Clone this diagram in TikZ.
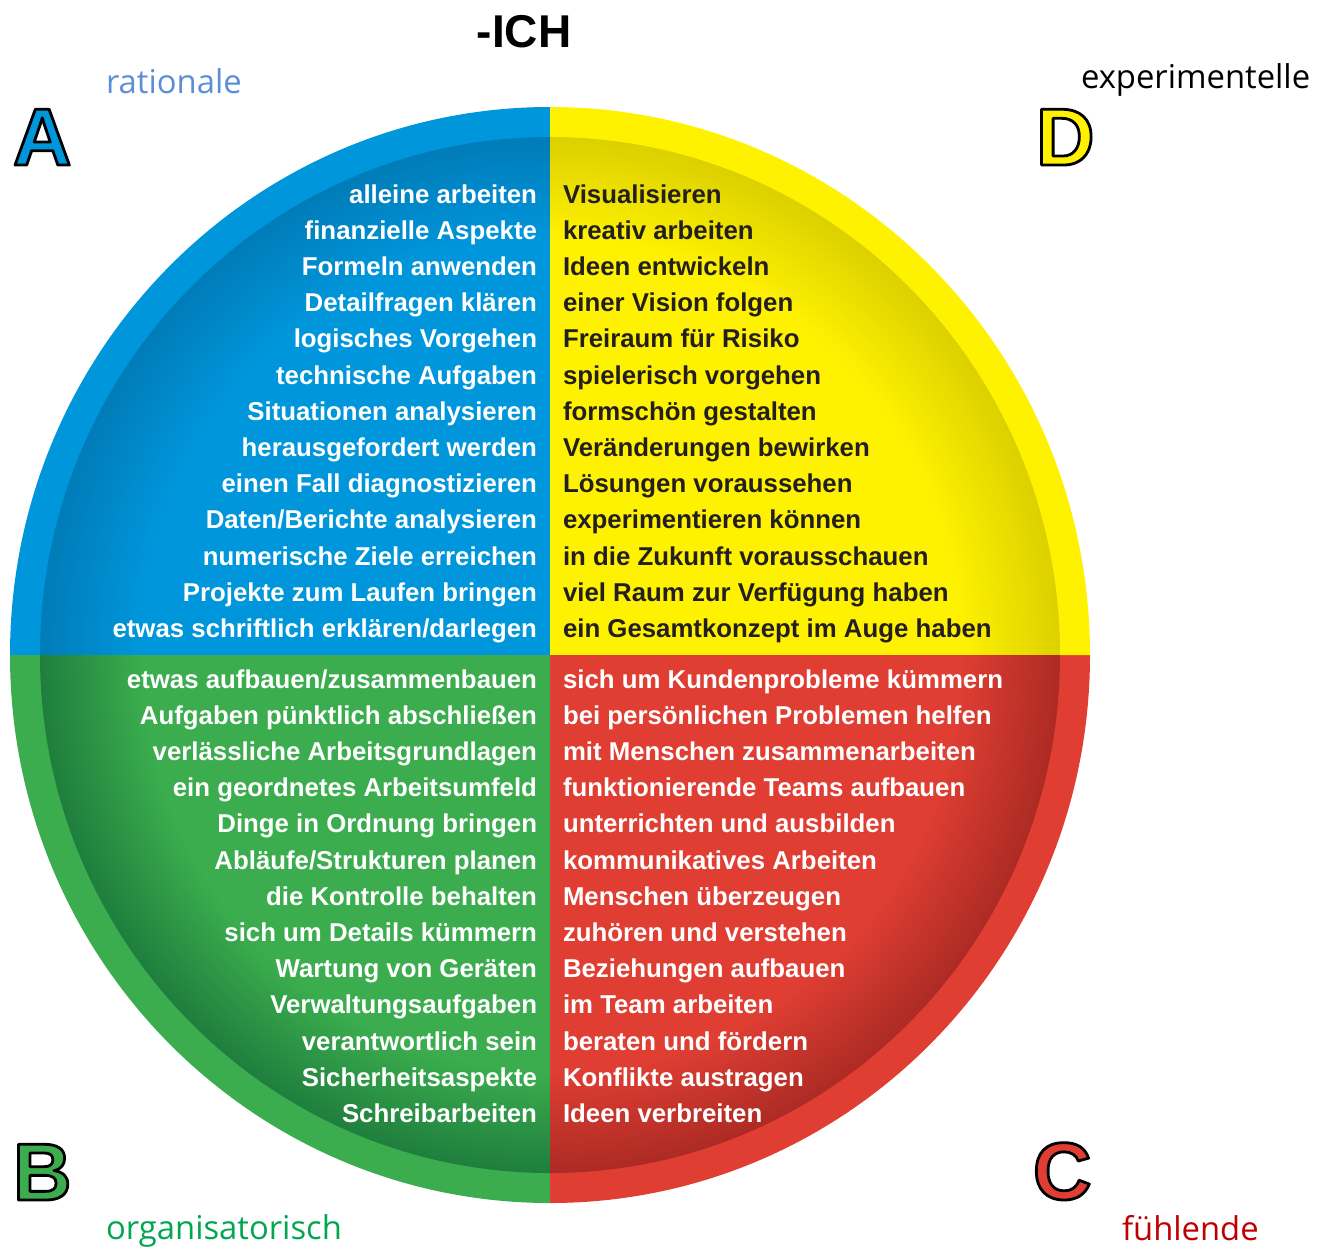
\documentclass[tikz,border=0pt]{standalone}
\usepackage{fontspec}
\setmainfont{Liberation Sans}
\newfontfamily\typefont{Open Sans}
\usepackage{xcolor}
\usetikzlibrary{positioning}
\definecolor{blueR}{HTML}{0096DB}
\definecolor{blueD}{HTML}{007CB8}
\definecolor{yellowR}{HTML}{FFF200}
\definecolor{yellowD}{HTML}{DCD000}
\definecolor{greenR}{HTML}{3BAD4E}
\definecolor{greenD}{HTML}{1F7E3D}
\definecolor{redR}{HTML}{E03E33}
\definecolor{redD}{HTML}{AC2B24}
\definecolor{darktext}{HTML}{231F20}
\definecolor{ratblue}{HTML}{5B8ED6}
\definecolor{orggreen}{HTML}{00A651}
\definecolor{fuehlred}{HTML}{C00000}
\pgfdeclareradialshading{shA}{\pgfpointorigin}{color(0bp)=(blueR); color(20bp)=(blueR); color(25bp)=(blueD); color(50bp)=(blueD)}
\pgfdeclareradialshading{shD}{\pgfpointorigin}{color(0bp)=(yellowR); color(20bp)=(yellowR); color(25bp)=(yellowD); color(50bp)=(yellowD)}
\pgfdeclareradialshading{shB}{\pgfpointorigin}{color(0bp)=(greenR); color(20bp)=(greenR); color(25bp)=(greenD); color(50bp)=(greenD)}
\pgfdeclareradialshading{shC}{\pgfpointorigin}{color(0bp)=(redR); color(20bp)=(redR); color(25bp)=(redD); color(50bp)=(redD)}
% outlined capital: fill in colour, stroke in black
\newcommand{\outlet}[2]{\textcolor{#1}{\special{pdf:literal direct 0 0 0 RG 1.4 w 1 j 2 Tr}#2\special{pdf:literal direct 0 Tr 0.4 w}}}

\begin{document}
\begin{tikzpicture}
	[x=0.5pt, y=0.5pt, inner sep=0pt, outer sep=0pt, node distance=0pt,
	item/.style={font=\fontsize{12.9}{15}\selectfont\bfseries, text height=12.45pt, text depth=5.65pt},
	lcol/.style={item, text=white},
	dcol/.style={item, text=darktext},
	letter/.style={font=\fontsize{40.5}{48}\selectfont\bfseries},
	type/.style={font=\typefont\fontsize{16.4}{20}\selectfont}]
	\useasboundingbox (0,0) rectangle (1317,-1249);
	\coordinate (c) at (550,-655);
	% outer ring
	\fill[blueR] (c) -- ++(0,274pt) arc[start angle=90, end angle=180, x radius=270pt, y radius=274pt] -- cycle;
	\fill[greenR] (c) -- ++(-270pt,0) arc[start angle=180, end angle=270, x radius=270pt, y radius=274pt] -- cycle;
	\fill[redR] (c) -- ++(0,-274pt) arc[start angle=270, end angle=360, x radius=270pt, y radius=274pt] -- cycle;
	\fill[yellowR] (c) -- ++(270pt,0) arc[start angle=0, end angle=90, x radius=270pt, y radius=274pt] -- cycle;
	% inner discs
	\begin{scope}
		\clip (c) rectangle ++(-300pt,300pt);
		\shade[shading=shA] (c) ellipse[x radius=255pt, y radius=259pt];
	\end{scope}
	\begin{scope}
		\clip (c) rectangle ++(300pt,300pt);
		\shade[shading=shD] (c) ellipse[x radius=255pt, y radius=259pt];
	\end{scope}
	\begin{scope}
		\clip (c) rectangle ++(-300pt,-300pt);
		\shade[shading=shB] (c) ellipse[x radius=255pt, y radius=259pt];
	\end{scope}
	\begin{scope}
		\clip (c) rectangle ++(300pt,-300pt);
		\shade[shading=shC] (c) ellipse[x radius=255pt, y radius=259pt];
	\end{scope}
	% heading and corner labels
	\node [font=\fontsize{23}{28}\selectfont\bfseries, anchor=base] (ich) at (524,-47) {-ICH};
	\node [type, text=ratblue, anchor=base west] (rat) at (106,-93) {rationale};
	\node [type, anchor=base west] (expt) at (1081,-88) {experimentelle};
	\node [type, text=orggreen, anchor=base west] (org) at (106,-1239) {organisatorisch};
	\node [type, text=fuehlred, anchor=base west] (fuehl) at (1122,-1240) {fühlende};
	\node [letter, anchor=south west] (letA) at (13,-165) {\outlet{blueR}{A}};
	\node [letter, anchor=south west] (letD) at (1036,-165) {\outlet{yellowR}{D}};
	\node [letter, anchor=south west] (letB) at (13,-1200) {\outlet{greenR}{B}};
	\node [letter, anchor=south west] (letC) at (1033,-1200) {\outlet{redR}{C}};
	% A: blue
	\node [lcol, anchor=base east] (a1) at (537,-203) {alleine arbeiten};
	\node [lcol] (a2) [below=of a1.south east, anchor=north east] {finanzielle Aspekte};
	\node [lcol] (a3) [below=of a2.south east, anchor=north east] {Formeln anwenden};
	\node [lcol] (a4) [below=of a3.south east, anchor=north east] {Detailfragen klären};
	\node [lcol] (a5) [below=of a4.south east, anchor=north east] {logisches Vorgehen};
	\node [lcol] (a6) [below=of a5.south east, anchor=north east] {technische Aufgaben};
	\node [lcol] (a7) [below=of a6.south east, anchor=north east] {Situationen analysieren};
	\node [lcol] (a8) [below=of a7.south east, anchor=north east] {herausgefordert werden};
	\node [lcol] (a9) [below=of a8.south east, anchor=north east] {einen Fall diagnostizieren};
	\node [lcol] (a10) [below=of a9.south east, anchor=north east] {Daten/Berichte analysieren};
	\node [lcol] (a11) [below=of a10.south east, anchor=north east] {numerische Ziele erreichen};
	\node [lcol] (a12) [below=of a11.south east, anchor=north east] {Projekte zum Laufen bringen};
	\node [lcol] (a13) [below=of a12.south east, anchor=north east] {etwas schriftlich erklären/darlegen};
	% D: yellow
	\node [dcol, anchor=base west] (d1) at (563,-203) {Visualisieren};
	\node [dcol] (d2) [below=of d1.south west, anchor=north west] {kreativ arbeiten};
	\node [dcol] (d3) [below=of d2.south west, anchor=north west] {Ideen entwickeln};
	\node [dcol] (d4) [below=of d3.south west, anchor=north west] {einer Vision folgen};
	\node [dcol] (d5) [below=of d4.south west, anchor=north west] {Freiraum für Risiko};
	\node [dcol] (d6) [below=of d5.south west, anchor=north west] {spielerisch vorgehen};
	\node [dcol] (d7) [below=of d6.south west, anchor=north west] {formschön gestalten};
	\node [dcol] (d8) [below=of d7.south west, anchor=north west] {Veränderungen bewirken};
	\node [dcol] (d9) [below=of d8.south west, anchor=north west] {Lösungen voraussehen};
	\node [dcol] (d10) [below=of d9.south west, anchor=north west] {experimentieren können};
	\node [dcol] (d11) [below=of d10.south west, anchor=north west] {in die Zukunft vorausschauen};
	\node [dcol] (d12) [below=of d11.south west, anchor=north west] {viel Raum zur Verfügung haben};
	\node [dcol] (d13) [below=of d12.south west, anchor=north west] {ein Gesamtkonzept im Auge haben};
	% B: green
	\node [lcol, anchor=base east] (b1) at (537,-688) {etwas aufbauen/zusammenbauen};
	\node [lcol] (b2) [below=of b1.south east, anchor=north east] {Aufgaben pünktlich abschließen};
	\node [lcol] (b3) [below=of b2.south east, anchor=north east] {verlässliche Arbeitsgrundlagen};
	\node [lcol] (b4) [below=of b3.south east, anchor=north east] {ein geordnetes Arbeitsumfeld};
	\node [lcol] (b5) [below=of b4.south east, anchor=north east] {Dinge in Ordnung bringen};
	\node [lcol] (b6) [below=of b5.south east, anchor=north east] {Abläufe/Strukturen planen};
	\node [lcol] (b7) [below=of b6.south east, anchor=north east] {die Kontrolle behalten};
	\node [lcol] (b8) [below=of b7.south east, anchor=north east] {sich um Details kümmern};
	\node [lcol] (b9) [below=of b8.south east, anchor=north east] {Wartung von Geräten};
	\node [lcol] (b10) [below=of b9.south east, anchor=north east] {Verwaltungsaufgaben};
	\node [lcol] (b11) [below=of b10.south east, anchor=north east] {verantwortlich sein};
	\node [lcol] (b12) [below=of b11.south east, anchor=north east] {Sicherheitsaspekte};
	\node [lcol] (b13) [below=of b12.south east, anchor=north east] {Schreibarbeiten};
	% C: red
	\node [lcol, anchor=base west] (c1) at (563,-688) {sich um Kundenprobleme kümmern};
	\node [lcol] (c2) [below=of c1.south west, anchor=north west] {bei persönlichen Problemen helfen};
	\node [lcol] (c3) [below=of c2.south west, anchor=north west] {mit Menschen zusammenarbeiten};
	\node [lcol] (c4) [below=of c3.south west, anchor=north west] {funktionierende Teams aufbauen};
	\node [lcol] (c5) [below=of c4.south west, anchor=north west] {unterrichten und ausbilden};
	\node [lcol] (c6) [below=of c5.south west, anchor=north west] {kommunikatives Arbeiten};
	\node [lcol] (c7) [below=of c6.south west, anchor=north west] {Menschen überzeugen};
	\node [lcol] (c8) [below=of c7.south west, anchor=north west] {zuhören und verstehen};
	\node [lcol] (c9) [below=of c8.south west, anchor=north west] {Beziehungen aufbauen};
	\node [lcol] (c10) [below=of c9.south west, anchor=north west] {im Team arbeiten};
	\node [lcol] (c11) [below=of c10.south west, anchor=north west] {beraten und fördern};
	\node [lcol] (c12) [below=of c11.south west, anchor=north west] {Konflikte austragen};
	\node [lcol] (c13) [below=of c12.south west, anchor=north west] {Ideen verbreiten};
\end{tikzpicture}
\end{document}
